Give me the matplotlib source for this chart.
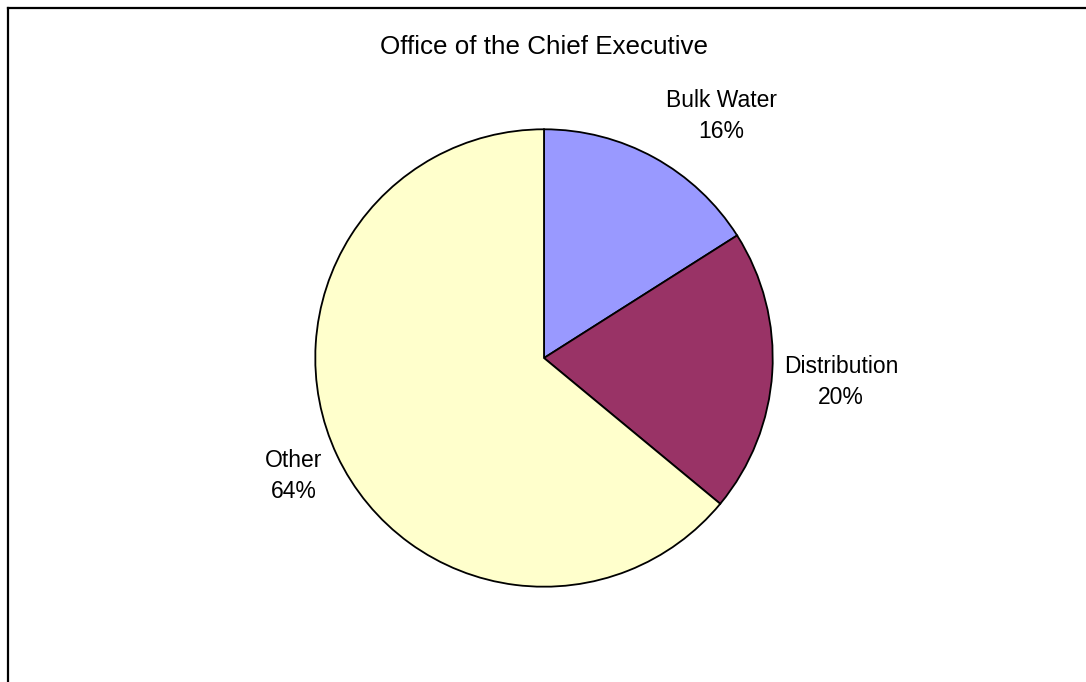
import matplotlib.pyplot as plt
from matplotlib.lines import Line2D

plt.rcParams['font.family'] = ['Liberation Sans', 'DejaVu Sans']

title = "Office of the Chief Executive"
categories = ["Bulk Water", "Distribution", "Other"]
shares = [16, 20, 64]
colors = ["#9999FF", "#993366", "#FFFFCC"]

W, H = 1086, 682
fig = plt.figure(figsize=(W / 100, H / 100), dpi=100)

# pie centre and radius in pixels
cx, cy, r = 544, 358, 231
ax = fig.add_axes([(cx - r) / W, (H - cy - r) / H, 2 * r / W, 2 * r / H])
ax.pie(shares, colors=colors, startangle=90, counterclock=False,
       wedgeprops=dict(edgecolor="black", linewidth=1.3), radius=1.0)
ax.set_xlim(-1.01, 1.01)
ax.set_ylim(-1.01, 1.01)
ax.set_aspect("equal")
ax.axis("off")

# data labels, outside each wedge
label_pos = {"Bulk Water": (721, 116), "Distribution": (841, 382), "Other": (294, 476)}
for name, val in zip(categories, shares):
    x, y = label_pos[name]
    fig.text(x / W, 1 - y / H, f"{name}\n{val}%", ha="center", va="center",
             fontsize=16.5, linespacing=1.4)

fig.text(cx / W, 1 - 47 / H, title, ha="center", va="center", fontsize=18.7)

# chart area border (open on the right and bottom)
fig.add_artist(Line2D([8 / W, 8 / W], [0, 1 - 7.5 / H], transform=fig.transFigure,
                      color="black", linewidth=1.6))
fig.add_artist(Line2D([8 / W, 1], [1 - 7.5 / H, 1 - 7.5 / H], transform=fig.transFigure,
                      color="black", linewidth=1.6))

fig.savefig("out.png", dpi=100)
